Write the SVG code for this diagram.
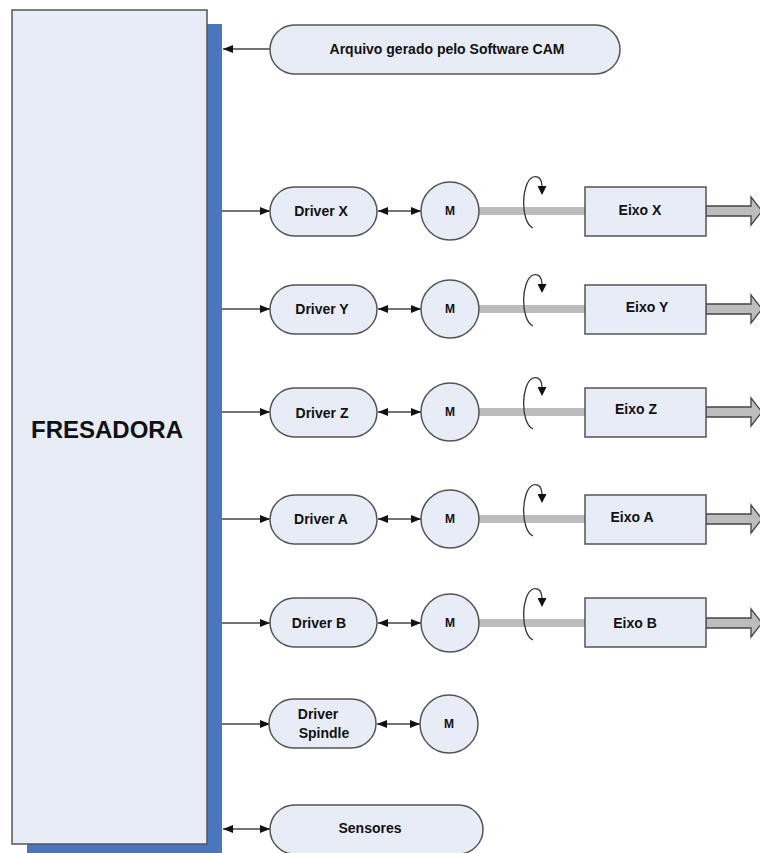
<svg xmlns="http://www.w3.org/2000/svg" width="760" height="853" viewBox="0 0 760 853">
<style>
.box{fill:#e8ecf7;stroke:#555;stroke-width:1.5}
.t{font-family:"Liberation Sans",Arial,sans-serif;font-weight:bold;font-size:14px;fill:#111;text-anchor:middle}
.m{font-family:"Liberation Sans",Arial,sans-serif;font-weight:bold;font-size:12px;fill:#111;text-anchor:middle}
.ln{stroke:#444;stroke-width:1.5;fill:none}
.shaft{stroke:#bcbcbc;stroke-width:8}
.rot{stroke:#333;stroke-width:1.3;fill:none}
.out{fill:#bdbdbd;stroke:#444;stroke-width:1.3}
</style>
<defs>
<marker id="ah" viewBox="0 0 10 10" refX="10" refY="5" markerWidth="11" markerHeight="10" markerUnits="userSpaceOnUse" orient="auto-start-reverse">
<path d="M0,1 L10,5 L0,9 z" fill="#111"/>
</marker>
<marker id="rh" viewBox="0 0 10 10" refX="5" refY="0" markerWidth="9" markerHeight="11" markerUnits="userSpaceOnUse" orient="0">
<path d="M0,0 L10,0 L5,10 z" fill="#111"/>
</marker>
</defs>
<g id="fresadora">
<rect x="27" y="24" width="195" height="829" fill="#4a76be"/>
<rect class="box" x="12" y="10" width="195" height="834"/>
<text class="t" x="107" y="438" style="font-size:24px">FRESADORA</text>
</g>
<g id="connectors">
<line class="ln" x1="270" y1="49" x2="223" y2="49" marker-end="url(#ah)"/>
<line class="ln" x1="222" y1="211" x2="270" y2="211" marker-end="url(#ah)"/>
<line class="ln" x1="378" y1="211" x2="421" y2="211" marker-start="url(#ah)" marker-end="url(#ah)"/>
<line class="ln" x1="222" y1="309" x2="270" y2="309" marker-end="url(#ah)"/>
<line class="ln" x1="378" y1="309" x2="421" y2="309" marker-start="url(#ah)" marker-end="url(#ah)"/>
<line class="ln" x1="222" y1="412" x2="270" y2="412" marker-end="url(#ah)"/>
<line class="ln" x1="378" y1="412" x2="421" y2="412" marker-start="url(#ah)" marker-end="url(#ah)"/>
<line class="ln" x1="222" y1="519" x2="270" y2="519" marker-end="url(#ah)"/>
<line class="ln" x1="378" y1="519" x2="421" y2="519" marker-start="url(#ah)" marker-end="url(#ah)"/>
<line class="ln" x1="222" y1="623" x2="270" y2="623" marker-end="url(#ah)"/>
<line class="ln" x1="378" y1="623" x2="421" y2="623" marker-start="url(#ah)" marker-end="url(#ah)"/>
<line class="ln" x1="222" y1="724" x2="270" y2="724" marker-end="url(#ah)"/>
<line class="ln" x1="377" y1="724" x2="420" y2="724" marker-start="url(#ah)" marker-end="url(#ah)"/>
<line class="ln" x1="223" y1="829" x2="270" y2="829" marker-start="url(#ah)" marker-end="url(#ah)"/>
<line class="shaft" x1="479" y1="211" x2="585" y2="211"/>
<line class="shaft" x1="479" y1="309" x2="585" y2="309"/>
<line class="shaft" x1="479" y1="412" x2="585" y2="412"/>
<line class="shaft" x1="479" y1="519" x2="585" y2="519"/>
<line class="shaft" x1="479" y1="623" x2="585" y2="623"/>
<path class="rot" d="M533,228 C520,222 521,182 533,177 C539,175 542,180 542,186" marker-end="url(#rh)"/>
<path class="rot" d="M533,326 C520,320 521,280 533,275 C539,273 542,278 542,284" marker-end="url(#rh)"/>
<path class="rot" d="M533,429 C520,423 521,383 533,378 C539,376 542,381 542,387" marker-end="url(#rh)"/>
<path class="rot" d="M533,536 C520,530 521,490 533,485 C539,483 542,488 542,494" marker-end="url(#rh)"/>
<path class="rot" d="M533,640 C520,634 521,594 533,589 C539,587 542,592 542,598" marker-end="url(#rh)"/>
<path class="out" d="M706,206 L751,206 L751,197 L762,211 L751,225 L751,216 L706,216 z"/>
<path class="out" d="M706,304 L751,304 L751,295 L762,309 L751,323 L751,314 L706,314 z"/>
<path class="out" d="M706,407 L751,407 L751,398 L762,412 L751,426 L751,417 L706,417 z"/>
<path class="out" d="M706,514 L751,514 L751,505 L762,519 L751,533 L751,524 L706,524 z"/>
<path class="out" d="M706,618 L751,618 L751,609 L762,623 L751,637 L751,628 L706,628 z"/>
</g>
<g id="cam"><rect class="box" x="270" y="25" width="350" height="49" rx="24.5"/><text class="t" x="447" y="54">Arquivo gerado pelo Software CAM</text></g>
<g id="driverX"><rect class="box" x="270" y="187" width="107" height="49" rx="24.5"/><text class="t" x="321" y="216">Driver X</text></g>
<g id="driverY"><rect class="box" x="270" y="285" width="107" height="49" rx="24.5"/><text class="t" x="322" y="314">Driver Y</text></g>
<g id="driverZ"><rect class="box" x="270" y="388" width="107" height="49" rx="24.5"/><text class="t" x="322" y="418">Driver Z</text></g>
<g id="driverA"><rect class="box" x="270" y="495" width="107" height="49" rx="24.5"/><text class="t" x="321" y="524">Driver A</text></g>
<g id="driverB"><rect class="box" x="270" y="598" width="107" height="49" rx="24.5"/><text class="t" x="319" y="628">Driver B</text></g>
<g id="driverSpindle"><rect class="box" x="269" y="699" width="107" height="49" rx="24.5"/><text class="t" x="318" y="719">Driver</text><text class="t" x="324" y="738">Spindle</text></g>
<g id="sensores"><rect class="box" x="270" y="805" width="213" height="49" rx="24.5"/><text class="t" x="370" y="833">Sensores</text></g>
<g id="motorX"><circle class="box" cx="450" cy="211" r="29"/><text class="m" x="450" y="215">M</text></g>
<g id="motorY"><circle class="box" cx="450" cy="309" r="29"/><text class="m" x="450" y="313">M</text></g>
<g id="motorZ"><circle class="box" cx="450" cy="412" r="29"/><text class="m" x="450" y="416">M</text></g>
<g id="motorA"><circle class="box" cx="450" cy="519" r="29"/><text class="m" x="450" y="523">M</text></g>
<g id="motorB"><circle class="box" cx="450" cy="623" r="29"/><text class="m" x="450" y="627">M</text></g>
<g id="motorS"><circle class="box" cx="449" cy="724" r="29"/><text class="m" x="449" y="728">M</text></g>
<g id="eixoX"><rect class="box" x="585" y="187" width="121" height="49"/><text class="t" x="640" y="215">Eixo X</text></g>
<g id="eixoY"><rect class="box" x="585" y="285" width="121" height="49"/><text class="t" x="647" y="312">Eixo Y</text></g>
<g id="eixoZ"><rect class="box" x="585" y="388" width="121" height="49"/><text class="t" x="636" y="414">Eixo Z</text></g>
<g id="eixoA"><rect class="box" x="585" y="495" width="121" height="49"/><text class="t" x="632" y="522">Eixo A</text></g>
<g id="eixoB"><rect class="box" x="585" y="598" width="121" height="49"/><text class="t" x="635" y="628">Eixo B</text></g>
</svg>
